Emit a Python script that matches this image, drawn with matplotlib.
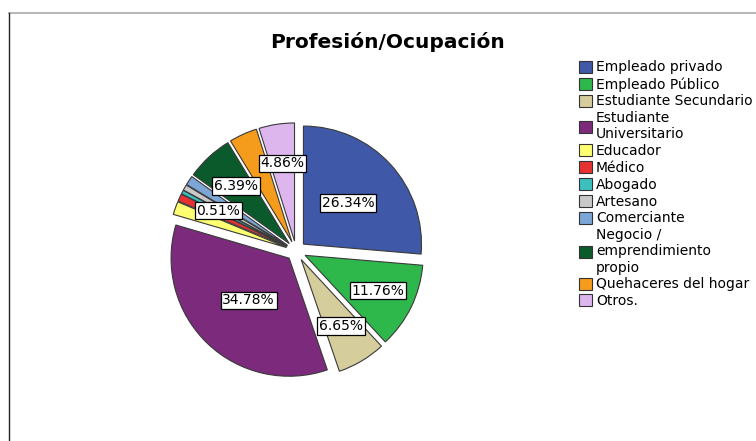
import matplotlib
matplotlib.use('Agg')
import matplotlib.pyplot as plt
from matplotlib.patches import Patch
from matplotlib.lines import Line2D
import numpy as np

# Profesion / Ocupacion shares (%)
labels = ['Empleado privado', 'Empleado Público', 'Estudiante Secundario',
          'Estudiante\nUniversitario', 'Educador', 'Médico', 'Abogado',
          'Artesano', 'Comerciante', 'Negocio /\nemprendimiento\npropio',
          'Quehaceres del hogar', 'Otros.']
values = [26.34, 11.76, 6.65, 34.78, 1.79, 1.02, 0.51, 0.77, 1.28, 6.39, 3.84, 4.86]
colors = ['#3F58A7', '#2EB84C', '#D5CD9B', '#7B2A7C', '#FFFF72', '#E83131',
          '#3CBFBF', '#C9C9C9', '#7BA6D6', '#0B5A2B', '#F59C1C', '#DDB6EE']
# which slices carry a label, and how far out from the pie centre
shown = [True, True, True, True, False, False, True, False, False, True, False, True]
label_r = [0.60, 0.77, 0.74, 0.58, 0, 0, 0.74, 0, 0, 0.75, 0, 0.75]

fig = plt.figure(figsize=(7.56, 4.41), dpi=100)
ax = fig.add_axes([0.1886, 0.083, 0.406, 0.696])

explode = [0.085] * len(values)
wedges, _ = ax.pie(values, colors=colors, startangle=90, counterclock=False,
                   explode=explode, wedgeprops=dict(edgecolor='#3a3a3a', linewidth=0.8))
ax.set_xlim(-1.3, 1.3)
ax.set_ylim(-1.3, 1.3)
ax.set_aspect('equal')
ax.axis('off')

for w, v, s, r in zip(wedges, values, shown, label_r):
    if not s:
        continue
    ang = np.deg2rad((w.theta1 + w.theta2) / 2)
    ax.text(r * np.cos(ang), r * np.sin(ang), '%.2f%%' % v,
            ha='center', va='center', fontsize=10,
            bbox=dict(boxstyle='square,pad=0.12', fc='white', ec='black', lw=0.9))

fig.text(0.513, 0.905, 'Profesión/Ocupación', ha='center', va='center',
         fontsize=14.5, fontweight='bold')

handles = [Patch(facecolor=c, edgecolor='#333333', linewidth=0.8) for c in colors]
fig.legend(handles, labels, loc='upper left', bbox_to_anchor=(0.766, 0.863),
           frameon=False, fontsize=10, handlelength=0.95, handleheight=0.95,
           handletextpad=0.25, labelspacing=0.2, borderpad=0, borderaxespad=0)

# frame around the output, as in the original export
fig.add_artist(Line2D([0.012, 1.0], [1 - 13 / 441, 1 - 13 / 441], transform=fig.transFigure,
                      color='#aaaaaa', lw=1.2))
fig.add_artist(Line2D([0.012, 0.012], [0, 1 - 13 / 441], transform=fig.transFigure,
                      color='#222222', lw=1.0))

fig.savefig('out.png', dpi=100)
